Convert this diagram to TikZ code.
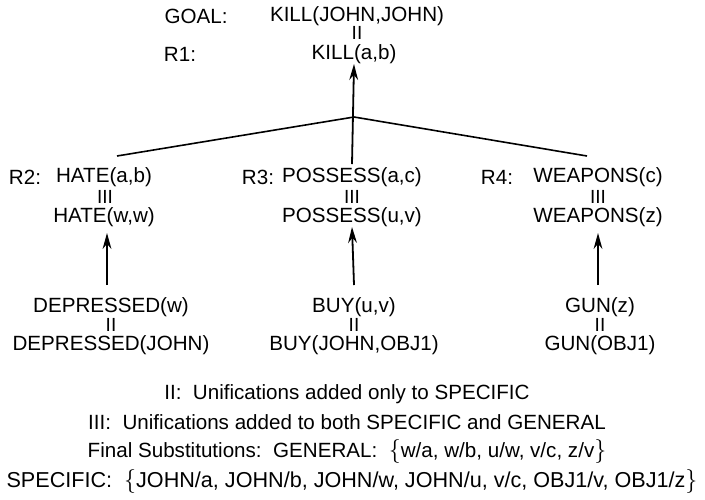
\documentclass[tikz,border=0pt]{standalone}
\usepackage{fontspec}
\setmainfont{Liberation Sans}
\usepackage{amsmath}
\usetikzlibrary{arrows.meta}
\newcommand{\lbr}{{\fontsize{12.5}{12}\selectfont$\{$}}
\newcommand{\rbr}{{\fontsize{12.5}{12}\selectfont$\}$}}

\begin{document}
\begin{tikzpicture}[x=0.5pt, y=-0.5pt,
    every node/.style={inner sep=0pt, font=\fontsize{10.3}{12}\selectfont},
    bars/.style={font=\fontsize{9.5}{10}\selectfont},
    arr/.style={line width=0.9pt, -{Stealth[length=8pt, width=4.4pt]}},
    fan/.style={line width=0.8pt}]
                \useasboundingbox (0,0) rectangle (705,499);
                % Goal and rule R1
                \node (goallab) at (196, 16) {GOAL:}; \node (goal) at (357, 16) {KILL(JOHN,JOHN)};
                \node[bars] (eq1) at (357, 33) {II};
                \node (r1lab) at (180, 54) {R1:}; \node (kill) at (354, 54) {KILL(a,b)};

                % Rules R2, R3, R4
                \node (r2lab) at (25, 177) {R2:}; \node (hateab) at (104, 177) {HATE(a,b)};
                \node (r3lab) at (258, 177) {R3:}; \node (possac) at (352, 177) {POSSESS(a,c)};
                \node (r4lab) at (497, 177) {R4:}; \node (weapc) at (598, 177) {WEAPONS(c)};
                \node[bars] (eq2) at (105, 197) {III}; \node[bars] (eq3) at (352, 197) {III}; \node[bars] (eq4) at (598, 197) {III};
                \node (hateww) at (104, 217) {HATE(w,w)};
                \node (possuv) at (352, 217) {POSSESS(u,v)};
                \node (weapz) at (598, 217) {WEAPONS(z)};

                % Facts
                \node (deprw) at (111, 307) {DEPRESSED(w)}; \node (buyuv) at (354, 307) {BUY(u,v)}; \node (gunz) at (600, 307) {GUN(z)};
                \node[bars] (eq5) at (111, 325) {II}; \node[bars] (eq6) at (354, 325) {II}; \node[bars] (eq7) at (600, 325) {II};
                \node (deprj) at (111, 345) {DEPRESSED(JOHN)}; \node (buyj) at (354, 345) {BUY(JOHN,OBJ1)}; \node (gunj) at (600, 345) {GUN(OBJ1)};

                % Connectors
                \coordinate (join) at (354, 117);
                \coordinate (leftend) at (117, 156);
                \coordinate (rightend) at (587, 156);
                \draw[fan] (leftend) -- (join) -- (rightend);
                \draw[arr] (possac.north) ++(0,-3) -- (kill.south);
                \draw[arr] (deprw.north -| 107,0) ++(0,-12) -- (107, 233);
                \draw[arr] (buyuv.north) ++(0,-12) -- (possuv.south);
                \draw[arr] (gunz.north -| 598,0) ++(0,-12) -- (598, 233);

                % Legend
                \node (key2) at (347, 394) {II:\ \ Unifications added only to SPECIFIC};
                \node (key3) at (347, 422) {III:\ \ Unifications added to both SPECIFIC and GENERAL};
                \node (final) at (347, 451) {Final Substitutions:\ \ GENERAL:\ \ \lbr w/a, w/b, u/w, v/c, z/v\rbr};
                \node[font=\fontsize{10.8}{12}\selectfont] (spec) at (352, 481) {SPECIFIC:\ \ \lbr JOHN/a, JOHN/b, JOHN/w, JOHN/u, v/c, OBJ1/v, OBJ1/z\rbr};
            \end{tikzpicture}
\end{document}
